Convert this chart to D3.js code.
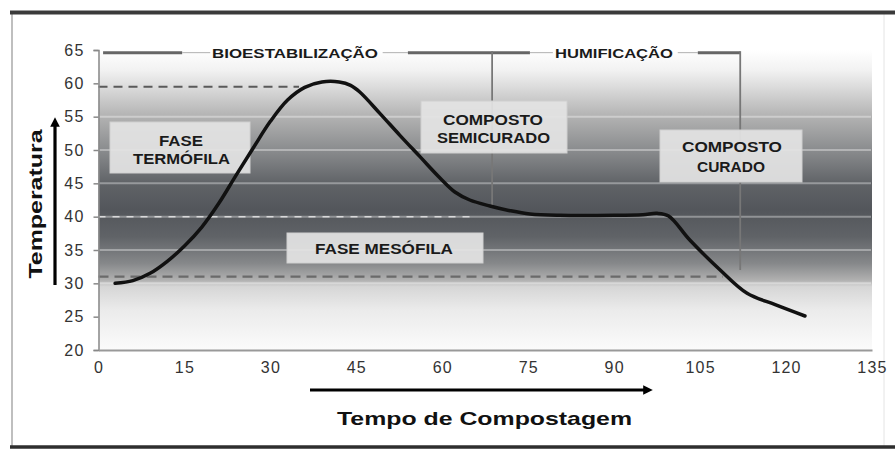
<!DOCTYPE html>
<html>
<head>
<meta charset="utf-8">
<script src="https://cdn.jsdelivr.net/npm/d3@7"></script>
<style>
  html, body { margin: 0; padding: 0; background: #fff; }
  svg { display: block; font-family: "Liberation Sans", Arial, sans-serif; }
</style>
</head>
<body>
<svg id="chart" width="895" height="462"></svg>
<script>
// ---- data ----
const xTicks = [0, 15, 30, 45, 60, 75, 90, 105, 120, 135];
const yTicks = [20, 25, 30, 35, 40, 45, 50, 55, 60, 65];
const days  = [2.9, 6, 9, 12, 15, 18, 21, 24, 27, 30, 33, 36, 39, 42, 44, 45.6, 49.1, 52.6, 56.1, 59.6, 62.2, 64.8, 68.3, 71.8, 75.3, 80.5, 90, 95, 97.5, 99.5, 103.2, 108.5, 113.2, 118.1, 123.3];
const temps = [30.0, 30.4, 31.5, 33.3, 35.6, 38.4, 42.0, 46.2, 50.3, 54.3, 57.5, 59.4, 60.2, 60.2, 59.7, 58.7, 55.5, 52.2, 49.0, 45.8, 43.7, 42.5, 41.6, 40.9, 40.4, 40.2, 40.2, 40.3, 40.5, 40.1, 36.5, 32.0, 28.5, 26.8, 25.1];
const refValues = [59.5, 40, 31];          // reference temperatures (dashed)
const refEndDays = [35, 65, 109];          // where each dashed line meets the curve
const phaseNames = ["BIOESTABILIZAÇÃO", "HUMIFICAÇÃO"];
const phaseBounds = [0.8, 68.7, 112];      // day boundaries of the two phases
const stageLabels = [["FASE", "TERMÓFILA"], ["COMPOSTO", "SEMICURADO"], ["COMPOSTO", "CURADO"], ["FASE MESÓFILA"]];

// ---- scales ----
const svg = d3.select("#chart");
const x = d3.scaleLinear().domain([0, 135]).range([98.5, 872]);
const y = d3.scaleLinear().domain([20, 65]).range([350, 50]);

// ---- frame ----
svg.append("line").attr("x1", 12).attr("x2", 12).attr("y1", 12).attr("y2", 447).attr("stroke", "#aaa").attr("stroke-width", 1.5);
svg.append("line").attr("x1", 884).attr("x2", 884).attr("y1", 14).attr("y2", 447).attr("stroke", "#e4e4e4").attr("stroke-width", 1);

// ---- background gradient ----
const defs = svg.append("defs");
const grad = defs.append("linearGradient").attr("id", "bg").attr("gradientUnits", "userSpaceOnUse")
  .attr("x1", 0).attr("x2", 0).attr("y1", y(65)).attr("y2", y(20));
const stops = [[65, "#ffffff"], [62, "#f2f2f2"], [59.5, "#dcdcdc"], [55, "#b2b2b2"], [50, "#8a8c8e"], [45, "#606367"], [41, "#53565b"], [37, "#606367"], [33, "#86888a"], [30.5, "#b0b0b0"], [29.5, "#d6d6d6"], [26, "#ebebeb"], [20, "#fbfbfb"]];
stops.forEach(s => grad.append("stop").attr("offset", (y(s[0]) - y(65)) / (y(20) - y(65))).attr("stop-color", s[1]));
svg.append("rect").attr("x", x(0)).attr("y", y(65)).attr("width", 872 - x(0)).attr("height", y(20) - y(65)).attr("fill", "url(#bg)");

// light grid bands
svg.append("g").selectAll("line").data(yTicks.filter(v => v >= 30 && v <= 55)).join("line")
  .attr("x1", x(0)).attr("x2", 871).attr("y1", d => y(d)).attr("y2", d => y(d))
  .attr("stroke", "rgba(255,255,255,0.35)").attr("stroke-width", 2);

// ---- dashed reference lines ----
const refStyles = [{c: "#5a5a5a", w: 2, dash: "9,6"}, {c: "rgba(235,235,235,0.8)", w: 1.5, dash: "7,7"}, {c: "#6a6a6a", w: 2.2, dash: "10,6"}];
refValues.forEach((v, i) => {
  svg.append("line").attr("x1", x(0)).attr("x2", x(refEndDays[i])).attr("y1", y(v)).attr("y2", y(v))
    .attr("stroke", refStyles[i].c).attr("stroke-width", refStyles[i].w).attr("stroke-dasharray", refStyles[i].dash);
});

// ---- phase annotations (top) ----
const topY = y(64.6);
const thick = (a, b) => svg.append("line").attr("x1", x(a)).attr("x2", x(b)).attr("y1", topY).attr("y2", topY).attr("stroke", "#666").attr("stroke-width", 3);
const thin = (a, b) => svg.append("line").attr("x1", x(a)).attr("x2", x(b)).attr("y1", topY).attr("y2", topY).attr("stroke", "#b0b0b0").attr("stroke-width", 1);
thick(phaseBounds[0], 14.6); thin(14.6, 19.5); thin(49.6, 54.0); thick(54.0, 75.3); thin(75.3, 79.3); thin(101.1, 104.6); thick(104.6, phaseBounds[2]);
// verticals
svg.append("line").attr("x1", x(phaseBounds[1])).attr("x2", x(phaseBounds[1])).attr("y1", topY - 1.5).attr("y2", y(41.5)).attr("stroke", "#777").attr("stroke-width", 1.8);
svg.append("line").attr("x1", x(phaseBounds[2])).attr("x2", x(phaseBounds[2])).attr("y1", topY - 1.5).attr("y2", y(32)).attr("stroke", "#777").attr("stroke-width", 1.8);

const phaseLabelPos = [{cx: 295, len: 166}, {cx: 614, len: 118}];
phaseNames.forEach((n, i) => {
  svg.append("text").attr("x", phaseLabelPos[i].cx).attr("y", 57.5).attr("text-anchor", "middle")
    .attr("font-size", 13).attr("font-weight", "bold").attr("fill", "#1a1a1a")
    .attr("textLength", phaseLabelPos[i].len).attr("lengthAdjust", "spacingAndGlyphs").text(n);
});

// ---- stage boxes ----
const boxes = [
  {x0: 110, x1: 250, y0: 122, y1: 173, lines: [{cx: 181, y: 146, len: 44}, {cx: 181.5, y: 164, len: 97}]},
  {x0: 421, x1: 567, y0: 101, y1: 153, lines: [{cx: 493, y: 125, len: 100}, {cx: 493.5, y: 143, len: 113}]},
  {x0: 660, x1: 802, y0: 130, y1: 182, lines: [{cx: 732, y: 152, len: 100}, {cx: 731, y: 172, len: 68}]},
  {x0: 287, x1: 483, y0: 233, y1: 263, lines: [{cx: 384, y: 254, len: 138}]}
];
boxes.forEach((b, i) => {
  svg.append("rect").attr("x", b.x0).attr("y", b.y0).attr("width", b.x1 - b.x0).attr("height", b.y1 - b.y0)
    .attr("fill", "#e3e3e3").attr("fill-opacity", 0.93).attr("stroke", "#d0d0d0").attr("stroke-width", 1);
  stageLabels[i].forEach((t, j) => {
    const l = b.lines[j];
    svg.append("text").attr("x", l.cx).attr("y", l.y).attr("text-anchor", "middle")
      .attr("font-size", 14).attr("font-weight", "bold").attr("fill", "#1a1a1a")
      .attr("textLength", l.len).attr("lengthAdjust", "spacingAndGlyphs").text(t);
  });
});

// ---- curve ----
const pts = days.map((d, i) => [d, temps[i]]);
svg.append("path").datum(pts)
  .attr("d", d3.line().x(d => x(d[0])).y(d => y(d[1])).curve(d3.curveCatmullRom.alpha(0.5)))
  .attr("fill", "none").attr("stroke", "#111").attr("stroke-width", 3.5).attr("stroke-linecap", "round").attr("stroke-linejoin", "round");

// ---- axes ----
const yAxis = svg.append("g").attr("transform", `translate(${x(0)},0)`)
  .call(d3.axisLeft(y).tickValues(yTicks).tickSize(5).tickPadding(9));
yAxis.select(".domain").attr("stroke", "#888").attr("stroke-width", 1.5);
yAxis.selectAll(".tick line").attr("stroke", "#888").attr("stroke-width", 1.5);
yAxis.selectAll("text").attr("font-size", 16).attr("fill", "#333").attr("letter-spacing", 1.2)
  .attr("font-family", "Liberation Sans, Arial, sans-serif");

const xAxis = svg.append("g").attr("transform", `translate(0,${y(20)})`)
  .call(d3.axisBottom(x).tickValues(xTicks).tickSize(0).tickPadding(12));
xAxis.select(".domain").attr("stroke", "#999").attr("stroke-width", 2);
xAxis.selectAll("text").attr("font-size", 16).attr("fill", "#333").attr("letter-spacing", 1.2)
  .attr("font-family", "Liberation Sans, Arial, sans-serif");

// ---- axis titles with arrows ----
defs.append("marker").attr("id", "arr").attr("viewBox", "0 0 10 10").attr("refX", 5).attr("refY", 5)
  .attr("markerWidth", 3).attr("markerHeight", 3).attr("orient", "auto")
  .append("path").attr("d", "M0,0 L10,5 L0,10 z").attr("fill", "#000");

svg.append("line").attr("x1", 310).attr("x2", 648).attr("y1", 390).attr("y2", 390)
  .attr("stroke", "#000").attr("stroke-width", 3.2).attr("marker-end", "url(#arr)");
svg.append("text").attr("x", 484.5).attr("y", 425).attr("text-anchor", "middle")
  .attr("font-size", 19).attr("font-weight", "bold").attr("fill", "#111")
  .attr("textLength", 295).attr("lengthAdjust", "spacingAndGlyphs").text("Tempo de Compostagem");

svg.append("line").attr("x1", 55).attr("x2", 55).attr("y1", 285).attr("y2", 122)
  .attr("stroke", "#000").attr("stroke-width", 3.2).attr("marker-end", "url(#arr)");
svg.append("text").attr("transform", "translate(42,204) rotate(-90)").attr("text-anchor", "middle")
  .attr("font-size", 19).attr("font-weight", "bold").attr("fill", "#111")
  .attr("textLength", 149).attr("lengthAdjust", "spacingAndGlyphs").text("Temperatura");

// top/bottom thick rules
svg.append("line").attr("x1", 10).attr("x2", 895).attr("y1", 12.5).attr("y2", 12.5).attr("stroke", "#3a3a3a").attr("stroke-width", 4);
svg.append("line").attr("x1", 10).attr("x2", 895).attr("y1", 447).attr("y2", 447).attr("stroke", "#2e2e2e").attr("stroke-width", 3.5);
</script>
</body>
</html>
